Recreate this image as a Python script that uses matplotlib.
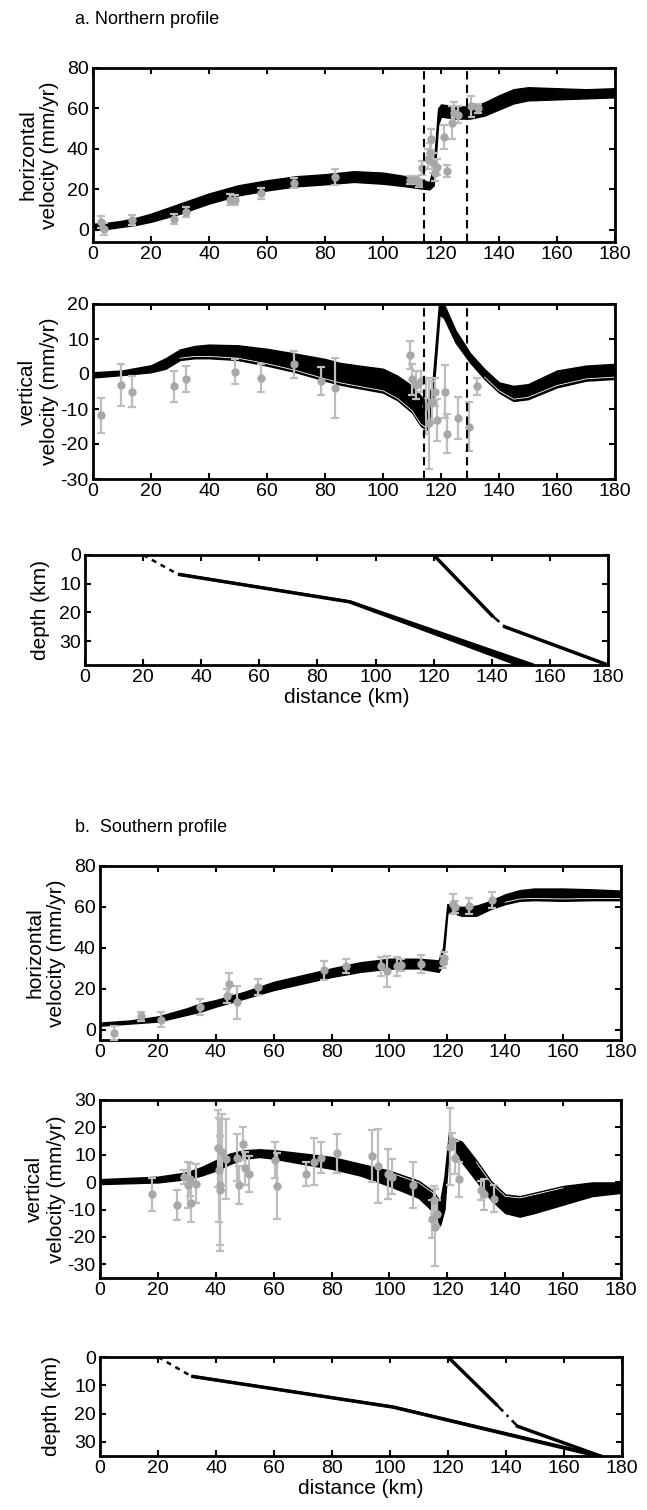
import numpy as np
import matplotlib.pyplot as plt
import matplotlib.transforms as mtransforms

plt.rcParams['font.family'] = ['Liberation Sans', 'DejaVu Sans']
plt.rcParams['font.size'] = 14
plt.rcParams['axes.unicode_minus'] = False

W, H = 647, 1510

# a. northern profile - horizontal velocity (model band + GPS)
na_h_x = [0, 5, 10, 15, 20, 25, 30, 35, 40, 45, 50, 60, 70, 80, 90, 100, 108, 113, 116,
          117.5, 119, 120, 125, 130, 135, 140, 145, 150, 160, 170, 180]
na_h_hi = [3, 3.5, 4.5, 6, 8, 10.5, 13, 15.5, 18, 20, 22, 24.5, 26.5, 27.5, 29, 28.3, 26.5, 25, 23.5,
           32, 60, 62, 61, 61, 63, 66.5, 69.5, 70.5, 70, 69.5, 70]
na_h_lo = [0, 0.5, 1.5, 2.5, 4, 6, 8, 10.5, 13, 15, 17, 19.5, 21.5, 22.5, 23.7, 22.8, 21.5, 20.5, 20,
           22, 52, 56, 55, 55, 56.5, 59.5, 62.5, 64, 64.5, 65, 65.5]
na_h_dx = [2.8, 3.8, 13.4, 28, 31.9, 47.2, 48.9, 58, 69.4, 83.5, 109.4, 111.3, 112.5, 113.4, 115.5,
           116.3, 116.7, 117.2, 117.8, 118.5, 120.9, 121.9, 123.8, 124.5, 125.9, 130.5, 132.6]
na_h_dy = [3.8, 0.5, 4.7, 5.5, 8.8, 15, 14.7, 18, 23, 26.3, 24.7, 24.5, 23, 30.5, 35,
           38, 44.7, 33, 28, 31, 45.8, 29, 53, 58, 57, 61, 60]
na_h_de = [3, 3, 2.5, 2.5, 2.5, 2.5, 2.5, 2.5, 2.5, 4, 2, 2, 2, 3.5, 5,
           5, 5, 5, 4, 4, 6, 3, 8, 5, 4, 5, 2]

# a. northern profile - vertical velocity
na_v_x = [0, 10, 20, 25, 30, 35, 40, 50, 60, 70, 80, 85, 90, 100, 105, 110, 113, 115, 117,
          119.5, 121, 125, 130, 135, 140, 145, 150, 160, 170, 180]
na_v_hi = [0.5, 1, 2.5, 4.5, 7, 8, 8.4, 8.2, 7.2, 5.8, 4.3, 3.2, 2.6, 1.5, -0.5, -3.4, -6.2, -8, -3,
           22, 20, 12.5, 6, 1.4, -2.4, -3.4, -2.9, 1, 2.4, 2.9]
na_v_lo = [-1, -0.3, 0.5, 1.5, 4, 4.5, 4.5, 4, 2.4, 0.5, -1.9, -3, -3.8, -5.3, -7.5, -11, -14.8, -16, -9,
           17, 16, 9, 3.3, -1.4, -5.3, -7.7, -7.2, -3.8, -1.9, -1.4]
na_v_dx = [2.8, 9.7, 13.4, 28, 32, 49.1, 58, 69.4, 78.5, 83.5, 109.4, 110, 111.5, 113, 114.7,
           116, 117, 117.8, 118.5, 121.4, 122, 126, 129.8, 132.5]
na_v_dy = [-11.8, -3, -5, -3.5, -1.5, 0.7, -1, 2.8, -2, -4, 5.3, -1.5, -3, -2, -9,
           -14, -8, -5, -13, -5, -17, -12.5, -15, -3.5]
na_v_de = [5, 6, 4.5, 4.5, 3.7, 3.5, 4, 3.8, 4, 8.5, 4, 4.5, 4, 3, 8,
           13, 6, 4, 6, 7.5, 5.5, 6, 7, 2.5]
na_faults = [114, 129]

# a. northern profile - fault geometry (depth)
na_f1_dash_x = [20, 32]
na_f1_dash_z = [0, 6.7]
na_f1_z = [6.7, 16.3, 38.3]
na_f1_xl = [32, 91, 149.5]
na_f1_xr = [32, 91.5, 154.5]
na_f2_x = [120, 140, 144.5, 180]
na_f2_z = [0, 21, 25, 38.3]

# b. southern profile - horizontal velocity
nb_h_x = [0, 10, 20, 30, 35, 40, 50, 60, 70, 80, 90, 100, 110, 117, 118.5, 120, 122, 125, 130,
          135, 140, 145, 150, 160, 170, 180]
nb_h_hi = [3.5, 4.5, 6.5, 10.5, 13, 14.5, 18.6, 23.4, 26.7, 30, 33, 34.7, 34.7, 33.9, 40, 61.4, 60.5, 60,
           60.6, 63, 66.2, 68.2, 69, 69, 68.6, 68]
nb_h_lo = [2, 3, 4, 7.3, 9, 11.3, 15.3, 19.4, 22.6, 25.8, 28.3, 29.9, 30, 28.3, 32, 57, 57, 55.7,
           55.7, 59, 61.4, 63, 63.3, 63, 63.3, 63.3]
nb_h_dx = [5, 14, 21, 34.5, 44, 44.5, 47.5, 54.5, 77.5, 85, 97, 99, 102.5, 104, 111,
           118.5, 119, 122, 122.5, 127.5, 135.5]
nb_h_dy = [-1.5, 6.5, 5, 11, 16.5, 22.5, 13.5, 21, 29, 31, 31, 28.5, 31, 31.5, 32,
           33, 35, 61.5, 60, 60.5, 63.5]
nb_h_de = [3.5, 2, 3.5, 4, 3.5, 5, 8, 4, 4.5, 3.5, 4.5, 7.5, 4.5, 3, 4.5,
           3, 3, 5, 3, 4, 4]

# b. southern profile - vertical velocity
nb_v_x = [0, 20, 30, 35, 40, 45, 50, 55, 60, 70, 80, 90, 100, 110, 115, 117.5, 119, 120.5, 122,
          125, 130, 135, 140, 145, 150, 160, 170, 180]
nb_v_hi = [1.1, 2, 3.6, 5.5, 8, 10.5, 11.7, 12, 11.7, 10.5, 9.2, 6.7, 4.2, 0.5, -3.2, -7, 2, 17.5, 16,
           14.8, 8, 0.5, -4.5, -5.1, -3.9, -1.4, -0.1, -0.1]
nb_v_lo = [-0.7, -0.1, 1.1, 2.4, 4.2, 6.7, 8.6, 9.2, 8.6, 6.7, 4.9, 2.4, -1.4, -5.7, -10.7, -15.7, -10, 12, 13,
           7.3, 0.5, -6.3, -11.3, -12.6, -11.3, -8.2, -5.1, -3.9]
nb_v_dx = [18, 26.5, 29, 30.5, 31, 31.5, 33, 40.7, 41, 41.3, 41.6, 42.2, 43.5, 47.5, 48, 49.5, 50, 51.5,
           60.5, 61, 71, 74, 76.5, 82, 94, 96, 99.5, 101, 108, 114.8, 115.3, 115.7, 116.5,
           121, 121.5, 122.5, 124, 131.5, 132.5, 136]
nb_v_dy = [-4.5, -8.5, 2, -1, 1, -7.5, -0.5, 12.3, 4.5, -1, -3, 11, 8.5, 9, -1, 14, 5, 3,
           8, -1.5, 3, 7.5, 9, 10.5, 9.5, 6, 3, 2, -1, -13.5, -6.5, -16.5, -11.5,
           13, 15, 9, 1, -3, -4.5, -6]
nb_v_de = [6, 5.5, 2.5, 8.5, 6, 7, 7, 14, 19, 24, 20, 14, 14.5, 8.5, 7, 6, 6, 6.5,
           6.5, 12, 4.5, 8.5, 5.5, 7, 9.5, 13.5, 9, 6.5, 8.5, 7, 5, 14, 5,
           14, 3, 6, 6.5, 3.5, 5.5, 5]

# b. southern profile - fault geometry
nb_f1_dash_x = [20, 31.5]
nb_f1_dash_z = [0, 6.8]
nb_f1_z = [6.8, 17.7, 35]
nb_f1_xl = [31.5, 101, 171.5]
nb_f1_xr = [31.5, 101.5, 173]
nb_f2_x = [120, 136.6, 144, 172.5]
nb_f2_z = [0, 16.7, 24.5, 35]

fig = plt.figure(figsize=(W / 100, H / 100), dpi=100)


def box(l, t, r, b):
    return fig.add_axes([l / W, 1 - b / H, (r - l) / W, (b - t) / H])


def style(ax, ylim, yticks, ylabel, lx):
    ax.set_xlim(0, 180)
    ax.set_xticks(range(0, 181, 20))
    ax.set_ylim(*ylim)
    ax.set_yticks(yticks)
    ax.tick_params(direction='in', top=True, right=True, length=4, width=1.5,
                   labelsize=14, pad=3)
    for s in ax.spines.values():
        s.set_linewidth(2)
    ax.set_ylabel(ylabel, fontsize=15, linespacing=1.2)
    ax.yaxis.set_label_coords(lx, 0.5)


def band(ax, x, lo, hi, white=None, dy=1.3):
    ax.fill_between(x, lo, hi, color='k', lw=1.0, edgecolor='k', zorder=2)
    if white is not None:
        xs = np.array(x)
        tr = mtransforms.offset_copy(ax.transData, fig=fig, y=dy, units='points')
        for (a, b), ys in white:
            m = (xs >= a) & (xs <= b)
            ax.plot(xs[m], np.array(ys)[m], color='w', lw=0.6, transform=tr, zorder=2.5)


def gps(ax, x, y, e):
    ax.errorbar(x, y, yerr=e, fmt='o', ms=5, color='#a8a8a8', ecolor='#bdbdbd',
                elinewidth=1.6, capsize=3, capthick=1.6, zorder=3)


def faults(ax, dx, dz, z, xl, xr, f2x, f2z):
    ax.plot(dx, dz, color='k', lw=1.8, ls=(0, (2, 2)))
    ax.fill_betweenx(z, xl, xr, color='k', lw=0)
    ax.plot(xl, z, color='k', lw=2.5, solid_capstyle='butt')
    ax.plot(xr, z, color='k', lw=2.0, solid_capstyle='butt')
    ax.plot(f2x[:2], f2z[:2], color='k', lw=2.5)
    ax.plot(f2x[1:3], f2z[1:3], color='k', lw=1.8, ls=(0, (4, 2, 1, 2)))
    ax.plot(f2x[2:], f2z[2:], color='k', lw=2.5)


fig.text(75 / W, 1 - 20 / H, 'a. Northern profile', fontsize=13, va='center', ha='left')
fig.text(75 / W, 1 - 828 / H, 'b.  Southern profile', fontsize=13, va='center', ha='left')

# ---- a: horizontal ----
ax = box(93, 68, 615, 242)
band(ax, na_h_x, na_h_lo, na_h_hi)
gps(ax, na_h_dx, na_h_dy, na_h_de)
for f in na_faults:
    ax.axvline(f, color='k', lw=1.5, ls=(0, (4, 2.5)), zorder=4)
style(ax, (-6, 80), [0, 20, 40, 60, 80], 'horizontal\nvelocity (mm/yr)', -0.065)

# ---- a: vertical ----
ax = box(93, 304, 615, 479)
band(ax, na_v_x, na_v_lo, na_v_hi, white=[((28, 116), na_v_lo), ((133, 180), na_v_lo)])
gps(ax, na_v_dx, na_v_dy, na_v_de)
for f in na_faults:
    ax.axvline(f, color='k', lw=1.5, ls=(0, (4, 2.5)), zorder=4)
style(ax, (-30, 20), [-30, -20, -10, 0, 10, 20], 'vertical\nvelocity (mm/yr)', -0.065)

# ---- a: depth ----
ax = box(85, 555, 608, 665)
faults(ax, na_f1_dash_x, na_f1_dash_z, na_f1_z, na_f1_xl, na_f1_xr, na_f2_x, na_f2_z)
style(ax, (38.3, 0), [0, 10, 20, 30], 'depth (km)', -0.067)
ax.set_xlabel('distance (km)', fontsize=15, labelpad=1)

# ---- b: horizontal ----
ax = box(100, 866, 621, 1040)
band(ax, nb_h_x, nb_h_lo, nb_h_hi, white=[((138, 180), nb_h_lo)])
gps(ax, nb_h_dx, nb_h_dy, nb_h_de)
style(ax, (-5, 80), [0, 20, 40, 60, 80], 'horizontal\nvelocity (mm/yr)', -0.065)

# ---- b: vertical ----
ax = box(100, 1100, 621, 1278)
band(ax, nb_v_x, nb_v_lo, nb_v_hi, white=[((95, 117), nb_v_hi), ((130, 165), nb_v_hi)], dy=-1.3)
gps(ax, nb_v_dx, nb_v_dy, nb_v_de)
style(ax, (-35, 30), [-30, -20, -10, 0, 10, 20, 30], 'vertical\nvelocity (mm/yr)', -0.065)

# ---- b: depth ----
ax = box(100, 1357, 622, 1456)
faults(ax, nb_f1_dash_x, nb_f1_dash_z, nb_f1_z, nb_f1_xl, nb_f1_xr, nb_f2_x, nb_f2_z)
style(ax, (35, 0), [0, 10, 20, 30], 'depth (km)', -0.075)
ax.set_xlabel('distance (km)', fontsize=15, labelpad=1)

fig.savefig('out.png', dpi=100)
